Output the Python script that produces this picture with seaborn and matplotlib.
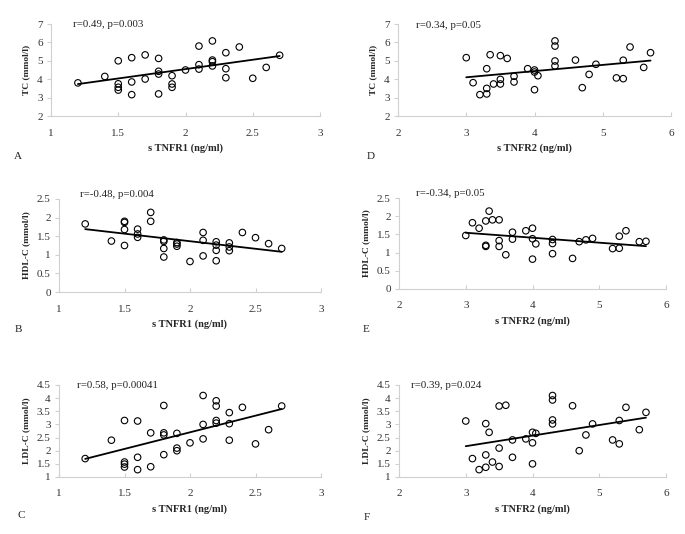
import matplotlib
matplotlib.use("Agg")
import matplotlib.pyplot as plt
import seaborn as sns
import pandas as pd

# ---------------- data ----------------
x_tnfr1 = [1.2, 1.4, 1.5, 1.5, 1.5, 1.5, 1.6, 1.6, 1.6, 1.7, 1.7,
           1.8, 1.8, 1.8, 1.8, 1.9, 1.9, 1.9, 2.0, 2.1, 2.1, 2.1,
           2.2, 2.2, 2.2, 2.2, 2.3, 2.3, 2.3, 2.4, 2.5, 2.6, 2.7]
tc_a = [3.80, 4.15, 5.00, 3.75, 3.56, 3.41, 5.17, 3.85, 3.16, 5.32, 4.01,
        5.13, 4.43, 4.28, 3.20, 4.19, 3.74, 3.56, 4.50, 5.80, 4.79, 4.55,
        6.08, 5.04, 4.95, 4.72, 5.44, 4.57, 4.08, 5.75, 4.05, 4.64, 5.30]
hdl_b = [1.83, 1.37, 1.90, 1.87, 1.68, 1.25, 1.69, 1.56, 1.47, 2.14, 1.90,
         1.40, 1.36, 1.17, 0.94, 1.33, 1.29, 1.23, 0.82, 1.60, 1.39, 0.97,
         1.35, 1.26, 1.12, 0.84, 1.32, 1.21, 1.11, 1.60, 1.46, 1.30, 1.17]
ldl_c = [1.70, 2.40, 3.15, 1.57, 1.49, 1.38, 3.13, 1.75, 1.28, 2.68, 1.39,
         3.72, 2.68, 2.60, 1.85, 2.66, 2.10, 2.00, 2.30, 4.10, 3.00, 2.45,
         3.90, 3.70, 3.15, 3.05, 3.45, 3.03, 2.40, 3.65, 2.26, 2.80, 3.70]

x_tnfr2_d = [3.0, 3.1, 3.2, 3.3, 3.3, 3.3, 3.35, 3.4, 3.5, 3.5, 3.5,
             3.6, 3.7, 3.7, 3.9, 4.0, 4.0, 4.0, 4.05, 4.3, 4.3, 4.3,
             4.3, 4.6, 4.7, 4.8, 4.9, 5.2, 5.3, 5.3, 5.4, 5.6, 5.7]
tc_d = [5.17, 3.81, 3.16, 4.57, 3.50, 3.20, 5.33, 3.74, 5.28, 3.99, 3.74,
        5.13, 4.16, 3.85, 4.57, 4.50, 4.39, 3.43, 4.19, 6.08, 5.80, 4.99,
        4.72, 5.04, 3.54, 4.26, 4.81, 4.07, 5.03, 4.03, 5.75, 4.64, 5.44]

x_tnfr2_e = [3.0, 3.1, 3.2, 3.3, 3.3, 3.3, 3.35, 3.4, 3.5, 3.5, 3.5,
             3.6, 3.7, 3.7, 3.9, 4.0, 4.0, 4.0, 4.05, 4.3, 4.3, 4.3,
             4.6, 4.7, 4.8, 4.9, 5.2, 5.3, 5.3, 5.4, 5.6, 5.7]
hdl_e = [1.47, 1.82, 1.67, 1.87, 1.20, 1.17, 2.14, 1.90, 1.90, 1.33, 1.17,
         0.94, 1.56, 1.37, 1.60, 1.67, 1.38, 0.82, 1.24, 1.36, 1.25, 0.97,
         0.84, 1.30, 1.35, 1.39, 1.11, 1.45, 1.12, 1.60, 1.30, 1.31]

x_tnfr2_f = [3.0, 3.1, 3.2, 3.3, 3.3, 3.3, 3.35, 3.4, 3.5, 3.5, 3.5,
             3.6, 3.7, 3.7, 3.9, 4.0, 4.0, 4.0, 4.05, 4.3, 4.3, 4.3,
             4.3, 4.6, 4.7, 4.8, 4.9, 5.2, 5.3, 5.3, 5.4, 5.6, 5.7]
ldl_f = [3.13, 1.70, 1.28, 3.03, 1.84, 1.37, 2.70, 1.57, 3.70, 2.10, 1.40,
         3.73, 2.41, 1.75, 2.45, 2.70, 2.30, 1.50, 2.66, 4.10, 3.93, 3.17,
         3.02, 3.71, 2.00, 2.60, 3.02, 2.41, 3.15, 2.26, 3.65, 2.80, 3.46]

panel_letters = ["A", "B", "C", "D", "E", "F"]
stat_texts = ["r=0.49, p=0.003", "r=-0.48, p=0.004", "r=0.58, p=0.00041",
              "r=0.34, p=0.05", "r=-0.34, p=0.05", "r=0.39, p=0.024"]
y_labels = ["TC (mmol/l)", "HDL-C (mmol/l)", "LDL-C (mmol/l)"]
x_labels = ["s TNFR1 (ng/ml)", "s TNFR2 (ng/ml)"]
y_ticks_tc = [2, 3, 4, 5, 6, 7]
y_ticks_hdl = [0, 0.5, 1, 1.5, 2, 2.5]
y_ticks_ldl = [1, 1.5, 2, 2.5, 3, 3.5, 4, 4.5]
x_ticks_1 = [1, 1.5, 2, 2.5, 3]
x_ticks_2 = [2, 3, 4, 5, 6]

# ---------------- style ----------------
sns.set_theme(style="white")
plt.rcParams["font.family"] = ["Liberation Serif", "DejaVu Serif"]

fig = plt.figure(figsize=(6.85, 5.34), dpi=100)
W, H = 685, 534

def rect(l, r, t, b):
    return [l / W, 1 - b / H, (r - l) / W, (b - t) / H]

panels = [
    (x_tnfr1, tc_a, x_ticks_1, y_ticks_tc, rect(51, 320, 24, 116), (14, 157), (0.08, 0.99), 0, 0),
    (x_tnfr1, hdl_b, x_ticks_1, y_ticks_hdl, rect(59, 321, 199, 292), (15, 329), (0.08, 1.05), 1, 0),
    (x_tnfr1, ldl_c, x_ticks_1, y_ticks_ldl, rect(59, 321, 385, 477), (18, 516), (0.07, 1.0), 2, 0),
    (x_tnfr2_d, tc_d, x_ticks_2, y_ticks_tc, rect(398, 671, 24, 116), (367, 157), (0.066, 0.98), 0, 1),
    (x_tnfr2_e, hdl_e, x_ticks_2, y_ticks_hdl, rect(399, 666, 198, 289), (363, 330), (0.064, 1.05), 1, 1),
    (x_tnfr2_f, ldl_f, x_ticks_2, y_ticks_ldl, rect(399, 666, 385, 477), (364, 518), (0.045, 1.0), 2, 1),
]

spine_col = "#d0d0d0"
for i, (xs, ys, xt, yt, rc, lp, sp, row, col) in enumerate(panels):
    ax = fig.add_axes(rc)
    df = pd.DataFrame({"x": xs, "y": ys})
    sns.regplot(data=df, x="x", y="y", ax=ax, ci=None, truncate=True,
                scatter_kws=dict(facecolors="none", edgecolors="black",
                                 s=22, linewidths=0.8, alpha=1, zorder=3),
                line_kws=dict(color="black", linewidth=1.3, zorder=2))
    ax.set_xlim(xt[0], xt[-1])
    ax.set_ylim(yt[0], yt[-1])
    ax.set_xticks(xt)
    ax.set_yticks(yt)
    ax.set_xticklabels([f"{v:g}" for v in xt])
    ax.set_yticklabels([f"{v:g}" for v in yt])
    for s in ["top", "right"]:
        ax.spines[s].set_visible(False)
    for s in ["left", "bottom"]:
        ax.spines[s].set_color(spine_col)
        ax.spines[s].set_linewidth(0.8)
    ax.tick_params(axis="x", direction="in", length=3, width=0.8, color=spine_col,
                   labelsize=8, labelcolor="#333333", pad=9)
    ax.tick_params(axis="y", direction="out", length=3, width=0.8, color=spine_col,
                   labelsize=8, labelcolor="#333333", pad=3)
    ax.tick_params(bottom=True, left=True)
    ax.set_xlabel(x_labels[col], fontsize=7.5, fontweight="bold", labelpad=4)
    ax.set_ylabel(y_labels[row], fontsize=6.8, fontweight="bold", labelpad=5)
    ax.text(sp[0], sp[1], stat_texts[i], transform=ax.transAxes,
            fontsize=7.8, ha="left", va="center", color="#222222")
    fig.text(lp[0] / W, 1 - lp[1] / H, panel_letters[i], fontsize=8,
             ha="left", va="center", color="#222222")

fig.savefig("out.png", dpi=100, facecolor="white")
